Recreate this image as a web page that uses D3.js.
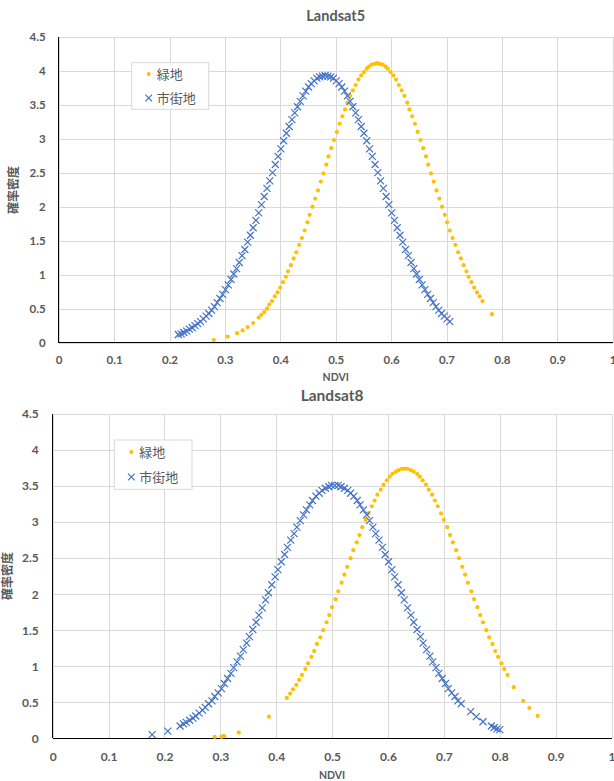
<!DOCTYPE html>
<meta charset="utf-8">
<style>
body { margin: 0; background: #fff; }
.grid line { stroke: #d9d9d9; stroke-width: 1; shape-rendering: crispEdges; }
.grid path { display: none; }
.labels path, .labels line { display: none; }
.labels text { fill: #595959; font-family: Lato, "Open Sans", sans-serif; font-weight: bold; }
.frame { stroke: #000; stroke-width: 1.3; shape-rendering: crispEdges; }
.title { fill: #595959; font-family: Lato, "Open Sans", sans-serif; font-weight: bold; text-anchor: middle; }
.axis-title { fill: #595959; font-family: Lato, "Noto Sans CJK JP", sans-serif; font-weight: bold; text-anchor: middle; }
.legend text { fill: #595959; font-family: "Noto Sans CJK JP", sans-serif; }
.urban { stroke: #4472c4; stroke-width: 1.2; fill: none; }
.green { fill: #ffc000; }
</style>
<body>
<script src="https://cdn.jsdelivr.net/npm/d3@7"></script>
<script>

// tick values shared by both panels
var xTicks = [0, 0.1, 0.2, 0.3, 0.4, 0.5, 0.6, 0.7, 0.8, 0.9, 1];
var yTicks = [0, 0.5, 1, 1.5, 2, 2.5, 3, 3.5, 4, 4.5];
var seriesNames = ['緑地', '市街地'];

// Landsat5 : [NDVI, density]
var greenL5 = [[0.280,0.04],[0.305,0.09],[0.322,0.14],[0.332,0.18],[0.341,0.23],[0.351,0.29],[0.361,0.37],[0.366,0.41],[0.371,0.45],[0.376,0.50],[0.380,0.56],[0.385,0.61],[0.390,0.68],[0.395,0.74],[0.400,0.81],[0.405,0.89],[0.410,0.97],[0.414,1.05],[0.419,1.14],[0.424,1.24],[0.429,1.33],[0.434,1.44],[0.439,1.54],[0.444,1.65],[0.449,1.77],[0.453,1.88],[0.458,2.00],[0.463,2.12],[0.468,2.24],[0.473,2.37],[0.478,2.49],[0.483,2.62],[0.487,2.74],[0.492,2.86],[0.497,2.98],[0.502,3.10],[0.507,3.22],[0.512,3.33],[0.517,3.43],[0.521,3.53],[0.526,3.63],[0.531,3.71],[0.536,3.79],[0.541,3.87],[0.546,3.93],[0.551,3.98],[0.556,4.03],[0.560,4.06],[0.565,4.09],[0.570,4.10],[0.575,4.11],[0.580,4.10],[0.585,4.09],[0.590,4.06],[0.594,4.03],[0.599,3.98],[0.604,3.93],[0.609,3.87],[0.614,3.79],[0.619,3.71],[0.624,3.63],[0.629,3.53],[0.633,3.43],[0.638,3.33],[0.643,3.22],[0.648,3.10],[0.653,2.98],[0.658,2.86],[0.663,2.74],[0.667,2.62],[0.672,2.49],[0.677,2.37],[0.682,2.24],[0.687,2.12],[0.692,2.00],[0.697,1.88],[0.701,1.77],[0.706,1.65],[0.711,1.54],[0.716,1.44],[0.721,1.33],[0.726,1.24],[0.731,1.14],[0.736,1.05],[0.740,0.97],[0.745,0.89],[0.750,0.81],[0.755,0.74],[0.760,0.68],[0.765,0.61],[0.782,0.42]];

var urbanL5 = [[0.216,0.12],[0.221,0.13],[0.226,0.15],[0.231,0.17],[0.236,0.20],[0.241,0.22],[0.246,0.25],[0.251,0.28],[0.256,0.31],[0.261,0.35],[0.266,0.39],[0.271,0.43],[0.276,0.48],[0.281,0.53],[0.286,0.59],[0.291,0.65],[0.296,0.71],[0.301,0.78],[0.306,0.85],[0.311,0.93],[0.316,1.01],[0.321,1.09],[0.326,1.18],[0.331,1.28],[0.336,1.37],[0.341,1.48],[0.346,1.58],[0.351,1.69],[0.356,1.80],[0.361,1.91],[0.366,2.03],[0.371,2.15],[0.376,2.27],[0.381,2.38],[0.386,2.50],[0.391,2.62],[0.396,2.74],[0.401,2.85],[0.406,2.97],[0.411,3.08],[0.416,3.18],[0.421,3.28],[0.426,3.38],[0.431,3.47],[0.436,3.55],[0.441,3.63],[0.446,3.70],[0.451,3.76],[0.456,3.81],[0.461,3.85],[0.466,3.89],[0.471,3.91],[0.476,3.92],[0.481,3.93],[0.486,3.92],[0.491,3.91],[0.496,3.89],[0.501,3.85],[0.506,3.81],[0.511,3.76],[0.516,3.70],[0.521,3.63],[0.526,3.55],[0.531,3.47],[0.536,3.38],[0.541,3.28],[0.546,3.18],[0.551,3.08],[0.556,2.97],[0.561,2.85],[0.566,2.74],[0.571,2.62],[0.576,2.50],[0.581,2.38],[0.586,2.27],[0.591,2.15],[0.596,2.03],[0.601,1.91],[0.606,1.80],[0.611,1.69],[0.616,1.58],[0.621,1.48],[0.626,1.37],[0.631,1.28],[0.636,1.18],[0.641,1.09],[0.646,1.01],[0.651,0.93],[0.656,0.85],[0.661,0.78],[0.666,0.71],[0.671,0.65],[0.676,0.59],[0.681,0.53],[0.686,0.48],[0.691,0.43],[0.696,0.39],[0.701,0.35],[0.706,0.31]];

// Landsat8 : [NDVI, density]
var greenL8 = [[0.290,0.02],[0.302,0.02],[0.305,0.03],[0.307,0.03],[0.333,0.08],[0.387,0.30],[0.419,0.56],[0.425,0.62],[0.430,0.68],[0.436,0.74],[0.441,0.81],[0.446,0.88],[0.452,0.96],[0.457,1.04],[0.463,1.13],[0.468,1.21],[0.473,1.31],[0.479,1.40],[0.484,1.50],[0.490,1.61],[0.495,1.71],[0.500,1.82],[0.506,1.93],[0.511,2.04],[0.517,2.16],[0.522,2.27],[0.527,2.38],[0.533,2.50],[0.538,2.61],[0.544,2.72],[0.549,2.82],[0.554,2.93],[0.560,3.03],[0.565,3.12],[0.571,3.22],[0.576,3.30],[0.581,3.38],[0.587,3.45],[0.592,3.52],[0.598,3.58],[0.603,3.63],[0.608,3.67],[0.614,3.70],[0.619,3.72],[0.625,3.74],[0.630,3.74],[0.635,3.74],[0.641,3.72],[0.646,3.70],[0.652,3.67],[0.657,3.63],[0.662,3.58],[0.668,3.52],[0.673,3.45],[0.679,3.38],[0.684,3.30],[0.689,3.22],[0.695,3.12],[0.700,3.03],[0.706,2.93],[0.711,2.82],[0.716,2.72],[0.722,2.61],[0.727,2.50],[0.733,2.38],[0.738,2.27],[0.743,2.16],[0.749,2.04],[0.754,1.93],[0.760,1.82],[0.765,1.71],[0.770,1.61],[0.776,1.50],[0.781,1.40],[0.787,1.31],[0.792,1.21],[0.797,1.13],[0.803,1.04],[0.808,0.96],[0.814,0.88],[0.825,0.71],[0.842,0.52],[0.853,0.42],[0.868,0.31]];

var urbanL8 = [[0.178,0.05],[0.206,0.10],[0.228,0.17],[0.234,0.20],[0.239,0.22],[0.245,0.25],[0.251,0.28],[0.256,0.31],[0.262,0.35],[0.268,0.39],[0.273,0.43],[0.279,0.48],[0.285,0.52],[0.290,0.58],[0.296,0.63],[0.302,0.69],[0.307,0.76],[0.313,0.83],[0.319,0.90],[0.324,0.98],[0.330,1.06],[0.336,1.14],[0.341,1.23],[0.347,1.32],[0.352,1.41],[0.358,1.51],[0.364,1.61],[0.369,1.71],[0.375,1.81],[0.381,1.92],[0.386,2.02],[0.392,2.13],[0.398,2.24],[0.403,2.34],[0.409,2.45],[0.415,2.55],[0.420,2.65],[0.426,2.75],[0.432,2.84],[0.437,2.93],[0.443,3.02],[0.449,3.10],[0.454,3.17],[0.460,3.24],[0.465,3.30],[0.471,3.36],[0.477,3.40],[0.482,3.44],[0.488,3.47],[0.494,3.49],[0.499,3.51],[0.505,3.51],[0.511,3.51],[0.516,3.49],[0.522,3.47],[0.528,3.44],[0.533,3.40],[0.539,3.36],[0.545,3.30],[0.550,3.24],[0.556,3.17],[0.562,3.10],[0.567,3.02],[0.573,2.93],[0.578,2.84],[0.584,2.75],[0.590,2.65],[0.595,2.55],[0.601,2.45],[0.607,2.34],[0.612,2.24],[0.618,2.13],[0.624,2.02],[0.629,1.92],[0.635,1.81],[0.641,1.71],[0.646,1.61],[0.652,1.51],[0.658,1.41],[0.663,1.32],[0.669,1.23],[0.675,1.14],[0.680,1.06],[0.686,0.98],[0.691,0.90],[0.697,0.83],[0.703,0.76],[0.708,0.69],[0.714,0.63],[0.720,0.58],[0.725,0.52],[0.731,0.48],[0.748,0.37],[0.758,0.30],[0.770,0.23],[0.785,0.17],[0.790,0.15],[0.795,0.13],[0.800,0.12]];

// layout of each panel (pixels)
var panels = [
  { title: 'Landsat5', green: greenL5, urban: urbanL5,
    left: 58.7, right: 612.7, top: 36.7, bottom: 342.7,
    titleY: 21, titleSize: 14.5, tickFont: 11.5, pad: 13,
    ndviY: 381, ylabX: 14, ylabY: 190,
    legend: { x: 131.7, y: 62.7, w: 77, h: 46.6, row1: 74, row2: 98 } },
  { title: 'Landsat8', green: greenL8, urban: urbanL8,
    left: 52.7, right: 611.5, top: 414, bottom: 738.3,
    titleY: 401, titleSize: 15.5, tickFont: 12, pad: 14,
    ndviY: 779, ylabX: 7.5, ylabY: 576,
    legend: { x: 114.3, y: 440, w: 77.7, h: 49.3, row1: 452, row2: 477 } }
];

var svg = d3.select('body').append('svg')
  .attr('width', 614)
  .attr('height', 781);

var fmt = d => String(+d.toFixed(1));

var crossPath = function(s) {
  return 'M' + (-s) + ',' + (-s) + 'L' + s + ',' + s + 'M' + (-s) + ',' + s + 'L' + s + ',' + (-s);
};

panels.forEach(function(p) {
  var x = d3.scaleLinear().domain([0, 1]).range([p.left, p.right]);
  var y = d3.scaleLinear().domain([0, 4.5]).range([p.bottom, p.top]);
  var g = svg.append('g');

  // gridlines
  g.append('g').attr('class', 'grid')
    .attr('transform', 'translate(0,' + p.bottom + ')')
    .call(d3.axisBottom(x).tickValues(xTicks).tickSize(-(p.bottom - p.top)).tickFormat(''));
  g.append('g').attr('class', 'grid')
    .attr('transform', 'translate(' + p.left + ',0)')
    .call(d3.axisLeft(y).tickValues(yTicks).tickSize(-(p.right - p.left)).tickFormat(''));

  // tick labels
  g.append('g').attr('class', 'labels')
    .attr('transform', 'translate(0,' + p.bottom + ')')
    .call(d3.axisBottom(x).tickValues(xTicks).tickSize(0).tickPadding(p.pad).tickFormat(fmt))
    .selectAll('text').style('font-size', p.tickFont + 'px');
  g.append('g').attr('class', 'labels')
    .attr('transform', 'translate(' + p.left + ',0)')
    .call(d3.axisLeft(y).tickValues(yTicks).tickSize(0).tickPadding(p.pad).tickFormat(fmt))
    .selectAll('text').style('font-size', p.tickFont + 'px');

  // axis lines
  g.append('line').attr('class', 'frame')
    .attr('x1', p.left).attr('x2', p.right).attr('y1', p.bottom).attr('y2', p.bottom);
  g.append('line').attr('class', 'frame')
    .attr('x1', p.left).attr('x2', p.left).attr('y1', p.top).attr('y2', p.bottom);

  // series
  g.append('g').selectAll('circle')
    .data(p.green)
    .enter().append('circle')
    .attr('class', 'green')
    .attr('r', 2.1)
    .attr('cx', d => x(d[0]))
    .attr('cy', d => y(d[1]));

  g.append('g').selectAll('path')
    .data(p.urban)
    .enter().append('path')
    .attr('class', 'urban')
    .attr('d', crossPath(3.5))
    .attr('transform', d => 'translate(' + x(d[0]) + ',' + y(d[1]) + ')');

  // titles
  g.append('text').attr('class', 'title')
    .attr('x', (p.left + p.right) / 2).attr('y', p.titleY)
    .style('font-size', p.titleSize + 'px')
    .text(p.title);
  g.append('text').attr('class', 'axis-title')
    .attr('x', (p.left + p.right) / 2).attr('y', p.ndviY)
    .style('font-size', '10.5px')
    .text('NDVI');
  g.append('text').attr('class', 'axis-title')
    .attr('transform', 'translate(' + p.ylabX + ',' + p.ylabY + ') rotate(-90)')
    .attr('dy', '0.35em')
    .style('font-size', '12px')
    .text('確率密度');

  // legend
  var lg = g.append('g').attr('class', 'legend');
  lg.append('rect')
    .attr('x', p.legend.x).attr('y', p.legend.y)
    .attr('width', p.legend.w).attr('height', p.legend.h)
    .attr('fill', '#fff').attr('stroke', '#d9d9d9');
  lg.append('circle').attr('class', 'green')
    .attr('r', 2).attr('cx', p.legend.x + 17).attr('cy', p.legend.row1);
  lg.append('path').attr('class', 'urban')
    .attr('d', crossPath(3.3))
    .attr('transform', 'translate(' + (p.legend.x + 17) + ',' + p.legend.row2 + ')');
  lg.append('text').attr('x', p.legend.x + 25).attr('y', p.legend.row1)
    .attr('dy', '0.35em').style('font-size', '13px').text(seriesNames[0]);
  lg.append('text').attr('x', p.legend.x + 25).attr('y', p.legend.row2)
    .attr('dy', '0.35em').style('font-size', '13px').text(seriesNames[1]);
});

</script>
</body>
